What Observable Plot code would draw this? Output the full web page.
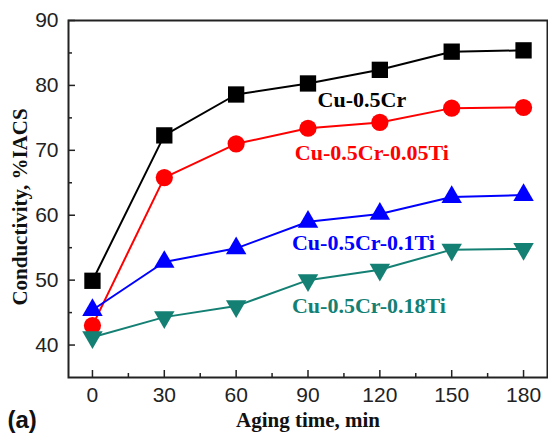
<!DOCTYPE html>
<html>
<head>
<meta charset="utf-8">
<script src="https://cdn.jsdelivr.net/npm/d3@7"></script>
<script src="https://cdn.jsdelivr.net/npm/@observablehq/plot@0.6"></script>
<style>
  html, body { margin: 0; padding: 0; background: #fff; }
</style>
</head>
<body>
<div id="chart"></div>
<script>
// ---- data ----
const times = [0, 30, 60, 90, 120, 150, 180];
const cu05Cr      = [49.9, 72.3, 78.6, 80.3, 82.4, 85.2, 85.4];
const cu05Cr005Ti = [43.0, 65.8, 71.0, 73.4, 74.3, 76.5, 76.6];
const cu05Cr01Ti  = [45.4, 52.8, 54.9, 59.0, 60.2, 62.8, 63.1];
const cu05Cr018Ti = [41.2, 44.3, 46.0, 50.0, 51.6, 54.7, 54.8];
const seriesNames = ["Cu-0.5Cr", "Cu-0.5Cr-0.05Ti", "Cu-0.5Cr-0.1Ti", "Cu-0.5Cr-0.18Ti"];
const xTicks = [0, 30, 60, 90, 120, 150, 180];
const xMinorTicks = [15, 45, 75, 105, 135, 165];
const yTicks = [40, 50, 60, 70, 80, 90];
const yMinorTicks = [45, 55, 65, 75, 85];
// in-plot series label anchors (data coordinates)
const labelTime = [94, 84.5, 83.3, 83.3];
const labelValue = [77.8, 69.6, 55.7, 46.0];

// ---- styles ----
const colors = ["#000000", "#ff0000", "#0000ff", "#148074"];
const symbols = ["square", "circle", "triangle", "triangle"];
const rotates = [0, 0, 0, 180];
const radii = [9.2, 8.6, 7.6, 7.6];

const allValues = [cu05Cr, cu05Cr005Ti, cu05Cr01Ti, cu05Cr018Ti];
const rows = allValues.flatMap((vals, s) =>
  vals.map((v, i) => ({ time: times[i], value: v, series: seriesNames[s] })));
const labels = seriesNames.map((name, i) => ({ name, time: labelTime[i], value: labelValue[i] }));

const W = 548, H = 433;
const mL = 68, mR = 1, mT = 20, mB = 56;
const innerW = W - mL - mR, innerH = H - mT - mB;

const marks = [];
seriesNames.forEach((name, s) => {
  const d = rows.filter(r => r.series === name);
  marks.push(Plot.line(d, { x: "time", y: "value", stroke: colors[s], strokeWidth: 2 }));
});
seriesNames.forEach((name, s) => {
  const d = rows.filter(r => r.series === name);
  marks.push(Plot.dot(d, { x: "time", y: "value", symbol: symbols[s], r: radii[s],
    fill: colors[s], stroke: "none", rotate: rotates[s] }));
});
labels.forEach((l, s) => {
  marks.push(Plot.text([l], { x: "time", y: "value", text: "name", fill: colors[s],
    textAnchor: "start", lineAnchor: "middle", fontFamily: "Liberation Serif",
    fontWeight: "bold", fontSize: 22 }));
});

// inward ticks
marks.push(Plot.ruleX(xTicks, { x: d => d, insetTop: innerH - 7, stroke: "#222", strokeWidth: 1.5 }));
marks.push(Plot.ruleX(xMinorTicks, { x: d => d, insetTop: innerH - 4, stroke: "#222", strokeWidth: 1.5 }));
marks.push(Plot.ruleY(yTicks, { y: d => d, insetRight: innerW - 7, stroke: "#222", strokeWidth: 1.5 }));
marks.push(Plot.ruleY(yMinorTicks, { y: d => d, insetRight: innerW - 4, stroke: "#222", strokeWidth: 1.5 }));
marks.push(Plot.frame({ stroke: "#222", strokeWidth: 2 }));

// axis titles
marks.push(Plot.text(["Aging time, min"], { frameAnchor: "bottom", dy: 43, lineAnchor: "middle",
  textAnchor: "middle", fontFamily: "Liberation Serif", fontWeight: "bold", fontSize: 21, fill: "#111" }));
marks.push(Plot.text(["Conductivity, %IACS"], { frameAnchor: "left", dx: -48, dy: 8, rotate: -90,
  textAnchor: "middle", lineAnchor: "middle", fontFamily: "Liberation Serif", fontWeight: "bold",
  fontSize: 21, fill: "#111" }));
marks.push(Plot.text(["(a)"], { frameAnchor: "bottom-left", dx: -61, dy: 43, textAnchor: "start",
  lineAnchor: "middle", fontFamily: "Liberation Sans", fontWeight: "bold", fontSize: 24, fill: "#111" }));

const chart = Plot.plot({
  width: W, height: H,
  marginLeft: mL, marginRight: mR, marginTop: mT, marginBottom: mB,
  style: { fontFamily: "Liberation Sans", fontSize: "21px", color: "#222", background: "#fff" },
  x: { domain: [-10, 190], ticks: xTicks, tickSize: 0, tickPadding: 10, label: null },
  y: { domain: [35, 90], ticks: yTicks, tickSize: 0, tickPadding: 10, label: null },
  marks
});
document.getElementById("chart").appendChild(chart);
</script>
</body>
</html>
